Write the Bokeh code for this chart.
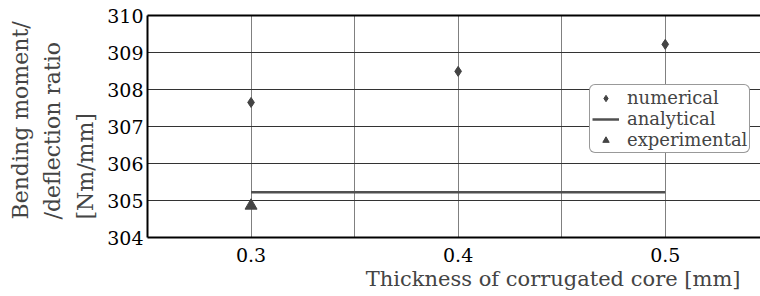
from bokeh.plotting import figure
from bokeh.models import (Range1d, FixedTicker, Title, Legend, LegendItem, LinearAxis)
from bokeh.embed import file_html
from bokeh.resources import INLINE

# data
thickness = [0.3, 0.4, 0.5]
numerical = [307.65, 308.49, 309.22]
analytical_x = [0.3, 0.5]
analytical_y = [305.22, 305.22]
experimental_x = [0.3]
experimental_y = [304.86]
x_ticks = [0.3, 0.4, 0.5]
x_grid = [0.3, 0.35, 0.4, 0.45, 0.5]
y_ticks = [304, 305, 306, 307, 308, 309, 310]
y_title_lines = ["Bending moment/", "/deflection ratio", "[Nm/mm]"]

FONT = "DejaVu Serif"

p = figure(width=760, height=292, output_backend="svg", toolbar_location=None,
           x_range=Range1d(0.25, 0.546), y_range=Range1d(304, 310),
           min_border_left=147, min_border_top=15, min_border_right=0,
           min_border_bottom=55)
p.outline_line_color = None
p.background_fill_color = "white"
p.border_fill_color = "white"

gcol = "#444444"
r_num = p.scatter(thickness, numerical, marker="diamond", size=10, color=gcol)
r_ana = p.line(analytical_x, analytical_y, line_color="#505050", line_width=2.5)
r_exp = p.scatter(experimental_x, experimental_y, marker="triangle", size=12, color=gcol)

# smaller copies drawn over the same points, used for the legend glyphs
l_num = p.scatter(thickness, numerical, marker="diamond", size=7, color=gcol)
l_exp = p.scatter(experimental_x, experimental_y, marker="triangle", size=7, color=gcol)

for ax in (p.xaxis[0], p.yaxis[0]):
    ax.axis_line_width = 2
    ax.axis_line_color = "black"
    ax.major_tick_in = 0
    ax.major_tick_out = 0
    ax.minor_tick_in = 0
    ax.minor_tick_out = 0
    ax.major_label_text_font = FONT
    ax.major_label_text_font_size = "19px"
    ax.major_label_text_color = "black"

p.xaxis.ticker = FixedTicker(ticks=x_ticks)
p.yaxis.ticker = FixedTicker(ticks=y_ticks)
p.xaxis.major_label_standoff = 10
p.yaxis.major_label_standoff = 4

p.xgrid.ticker = FixedTicker(ticks=x_grid)
p.ygrid.ticker = FixedTicker(ticks=y_ticks)
p.xgrid.grid_line_color = "#808080"
p.ygrid.grid_line_color = "#333333"
p.xgrid.grid_line_width = 1
p.ygrid.grid_line_width = 1

top = LinearAxis(axis_line_width=2, axis_line_color="black", major_tick_in=0,
                 major_tick_out=0, minor_tick_in=0, minor_tick_out=0,
                 major_label_text_font_size="0px", ticker=FixedTicker(ticks=[]))
p.add_layout(top, "above")

# x axis title
p.add_layout(Title(text="Thickness of corrugated core [mm]", align="right", offset=20,
                   text_font=FONT, text_font_size="21px", text_font_style="normal",
                   standoff=0), "below")

# small spacer between tick labels and y axis title
p.add_layout(Title(text=" ", text_font=FONT, text_font_size="4px", standoff=0), "left")

# y axis title, three left-aligned lines
p.add_layout(Title(text="\n".join(y_title_lines), align="left", offset=18,
                   text_font=FONT, text_font_size="22px", text_font_style="normal",
                   text_line_height=1.3, standoff=0), "left")

legend = Legend(items=[
    LegendItem(label="numerical", renderers=[l_num]),
    LegendItem(label="analytical", renderers=[r_ana]),
    LegendItem(label="experimental", renderers=[l_exp]),
], location=(442, 84))
legend.label_text_font = FONT
legend.label_text_font_size = "18px"
legend.label_height = 16
legend.glyph_height = 16
legend.glyph_width = 27
legend.spacing = 0
legend.padding = 2
legend.label_standoff = 8
legend.border_line_color = "#333333"
legend.border_line_width = 1
legend.background_fill_alpha = 1
if "border_radius" in legend.properties():
    legend.border_radius = 6
p.add_layout(legend, "center")

open("out.html", "w").write(file_html(p, INLINE))
